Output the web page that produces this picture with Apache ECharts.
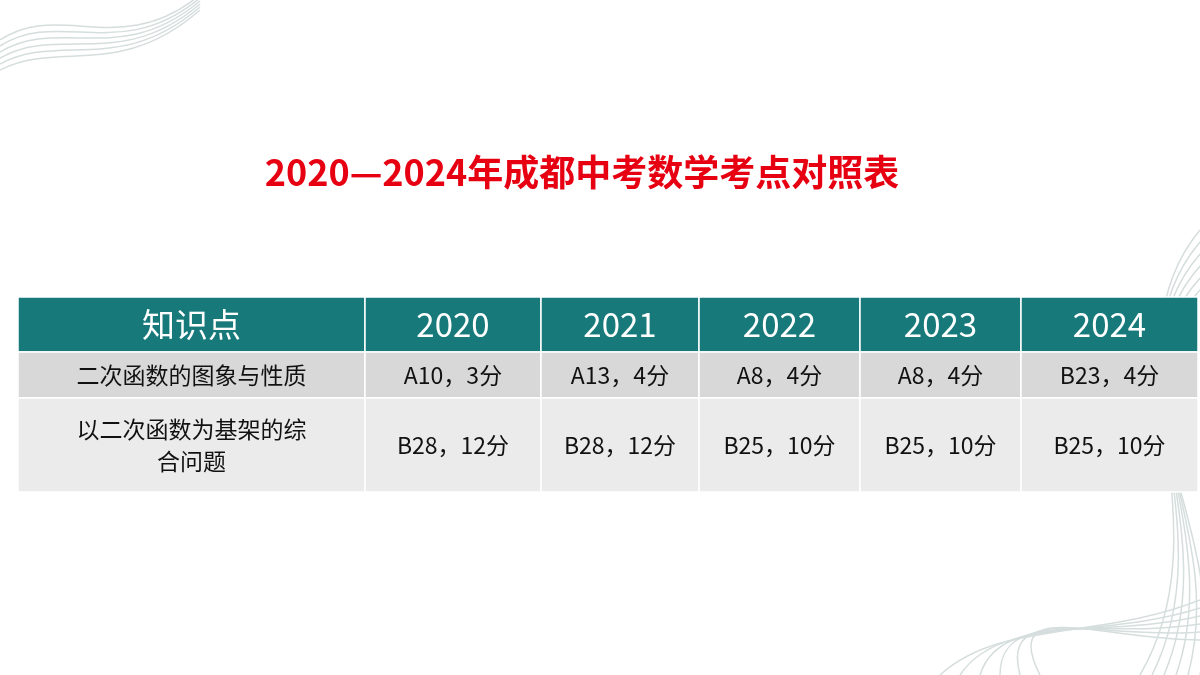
<!DOCTYPE html>
<html><head><meta charset="utf-8">
<script src="https://cdn.jsdelivr.net/npm/echarts@6/dist/echarts.min.js"></script>
<style>html,body{margin:0;background:#fff}#c{width:1200px;height:675px}</style>
</head><body><div id="c"></div>
<script>
// table content
const title = "2020—2024年成都中考数学考点对照表";
const headers = ["知识点", "2020", "2021", "2022", "2023", "2024"];
const topics = ["二次函数的图象与性质", "以二次函数为基架的综\n合问题"];
const row1 = ["A10，3分", "A13，4分", "A8，4分", "A8，4分", "B23，4分"];
const row2 = ["B28，12分", "B28，12分", "B25，10分", "B25，10分", "B25，10分"];

// layout
const colEdges = [18, 365, 541, 699, 860, 1021, 1198];
const rowEdges = [297, 352, 398, 492];
const rowFill = ["#17797a", "#d8d8d8", "#ebebeb"];

const rows = [headers, [topics[0], ...row1], [topics[1], ...row2]];
const cells = [];
rows.forEach((r, ri) => r.forEach((t, ci) => cells.push([ci, ri, t])));

const chart = echarts.init(document.getElementById("c"));
const curves = [];
for (let i = 0; i < 6; i++) {
  curves.push({type: "bezierCurve", shape: {x1: 0, y1: 40 + i * 6, cpx1: 60, cpy1: 0 + i * 8, cpx2: 120, cpy2: 60 + i * 4, x2: 200, y2: -5 + i * 3},
    style: {stroke: "#d5dedd", lineWidth: 1.5, fill: null}});
  curves.push({type: "bezierCurve", shape: {x1: 1200, y1: 230 + i * 12, cpx1: 1100, cpy1: 350 + i * 10, cpx2: 1230, cpy2: 520, x2: 1140 + i * 12, y2: 675},
    style: {stroke: "#d5dedd", lineWidth: 1.5, fill: null}});
  curves.push({type: "bezierCurve", shape: {x1: 940 + i * 20, y1: 675, cpx1: 1000, cpy1: 620 - i * 5, cpx2: 1100, cpy2: 640, x2: 1200, y2: 600 + i * 8},
    style: {stroke: "#d5dedd", lineWidth: 1.5, fill: null}});
}
chart.setOption({
  animation: false,
  title: {text: title, left: 577, top: 149, textAlign: "center",
    textStyle: {color: "#e60012", fontSize: 36, fontWeight: "bold", fontFamily: "Noto Sans CJK SC", letterSpacing: 1}},
  graphic: curves,
  grid: {left: 0, right: 0, top: 0, bottom: 0},
  xAxis: {type: "value", min: 0, max: 1200, show: false},
  yAxis: {type: "value", min: 0, max: 675, inverse: true, show: false},
  series: [{
    type: "custom",
    coordinateSystem: "cartesian2d",
    data: cells,
    renderItem: (params, api) => {
      const ci = api.value(0), ri = api.value(1);
      const p0 = api.coord([colEdges[ci], rowEdges[ri]]);
      const p1 = api.coord([colEdges[ci + 1], rowEdges[ri + 1]]);
      const txt = cells[params.dataIndex][2];
      const head = ri === 0;
      return {type: "group", children: [
        {type: "rect", shape: {x: p0[0], y: p0[1], width: p1[0] - p0[0], height: p1[1] - p0[1]},
          style: {fill: rowFill[ri], stroke: "#ffffff", lineWidth: 1.5}},
        {type: "text", x: (p0[0] + p1[0]) / 2, y: (p0[1] + p1[1]) / 2,
          style: {text: txt, align: "center", verticalAlign: "middle",
            fill: head ? "#ffffff" : "#111111",
            fontSize: head ? 33 : 23, lineHeight: 32, letterSpacing: ci === 0 ? 4 : 1,
            fontFamily: "Noto Sans CJK SC"}}
      ]};
    }
  }]
});
</script></body></html>
